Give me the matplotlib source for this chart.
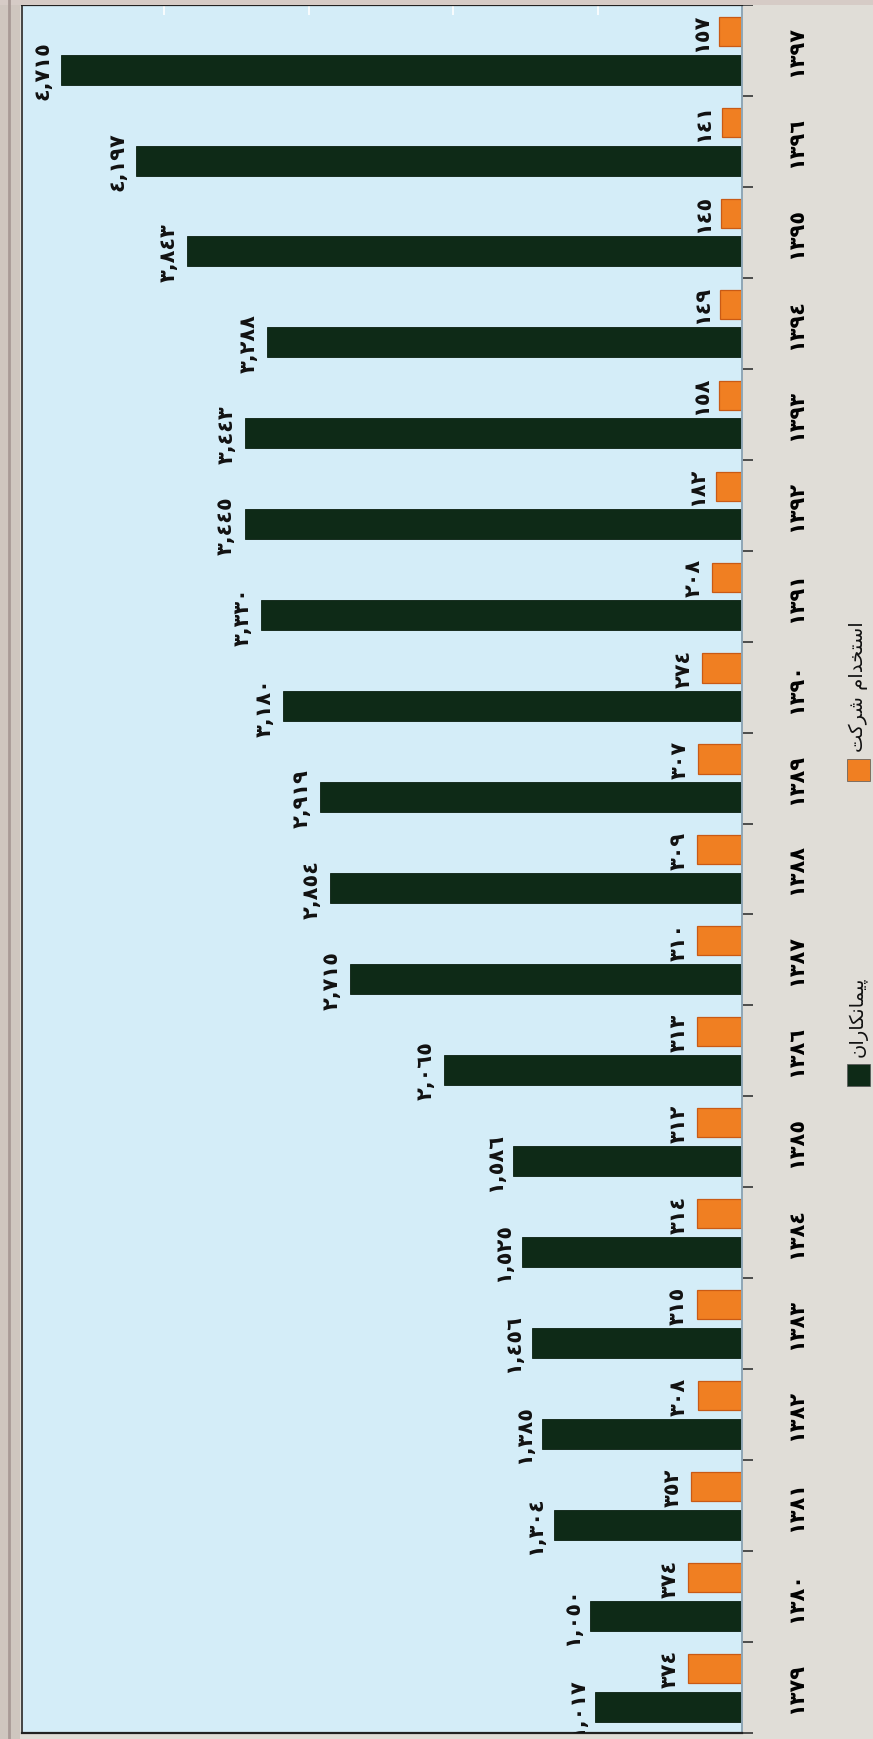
import numpy as np
import matplotlib
matplotlib.use("Agg")
import matplotlib.pyplot as plt
from matplotlib.patches import Rectangle

plt.rcParams['font.family'] = ['DejaVu Sans']

# data
years = [1379, 1380, 1381, 1382, 1383, 1384, 1385, 1386, 1387, 1388,
         1389, 1390, 1391, 1392, 1393, 1394, 1395, 1396, 1397]
contractors = [1017, 1050, 1304, 1385, 1456, 1525, 1586, 2065, 2715, 2854,
               2919, 3180, 3330, 3445, 3443, 3288, 3843, 4197, 4715]
company = [374, 374, 352, 308, 315, 314, 312, 313, 310, 309,
           307, 274, 208, 182, 158, 149, 145, 141, 157]
legend_names = ['پیمانکاران', 'استخدام شرکت']

DIGITS = str.maketrans('0123456789', '٠١٢٣٤٥٦٧٨٩')


def fa_num(v, sep=True):
    s = f'{v:,}' if sep else str(v)
    return s.translate(DIGITS)


# minimal arabic shaping (matplotlib does no shaping / bidi)
FORMS = {
    'ا': (0xFE8D, 0xFE8E, None, None), 'د': (0xFEA9, 0xFEAA, None, None),
    'ر': (0xFEAD, 0xFEAE, None, None), 'س': (0xFEB1, 0xFEB2, 0xFEB3, 0xFEB4),
    'ت': (0xFE95, 0xFE96, 0xFE97, 0xFE98), 'خ': (0xFEA5, 0xFEA6, 0xFEA7, 0xFEA8),
    'م': (0xFEE1, 0xFEE2, 0xFEE3, 0xFEE4), 'ش': (0xFEB5, 0xFEB6, 0xFEB7, 0xFEB8),
    'ک': (0xFB8E, 0xFB8F, 0xFB90, 0xFB91), 'پ': (0xFB56, 0xFB57, 0xFB58, 0xFB59),
    'ی': (0xFBFC, 0xFBFD, 0xFBFE, 0xFBFF), 'ن': (0xFEE5, 0xFEE6, 0xFEE7, 0xFEE8),
}


def shape(text):
    out = []
    for i, ch in enumerate(text):
        if ch not in FORMS:
            out.append(ch)
            continue
        prev = text[i - 1] if i > 0 else ''
        nxt = text[i + 1] if i + 1 < len(text) else ''
        jp = prev in FORMS and FORMS[prev][2] is not None
        jn = FORMS[ch][2] is not None and nxt in FORMS
        iso, fin, ini, med = FORMS[ch]
        if jp and jn:
            c = med
        elif jp:
            c = fin
        elif jn:
            c = ini
        else:
            c = iso
        out.append(chr(c))
    return ''.join(out[::-1])


W, H = 873, 1740
fig = plt.figure(figsize=(W / 100, H / 100), dpi=100, facecolor='#e0ddd7')

# scanned page frame on the left / top
fig.patches.append(Rectangle((0, 0), 20 / W, 1, transform=fig.transFigure,
                             facecolor='#cfc6bf', edgecolor='none'))
fig.patches.append(Rectangle((0, 1 - 6 / H), 1, 6 / H, transform=fig.transFigure,
                             facecolor='#d6cbc6', edgecolor='none'))
fig.add_artist(plt.Line2D([9 / W, 9 / W], [0, 1], transform=fig.transFigure,
                          color='#a89a96', linewidth=2))

ax = fig.add_axes([22 / W, 6 / H, 720 / W, 1728 / H])
ax.set_facecolor('#d4edf8')

y = np.arange(len(years))
dark = '#0e2a17'
orange = '#f07f22'
ax.barh(y - 0.21, contractors, height=0.33, color=dark, edgecolor='#0a1f10',
        linewidth=0.6, zorder=2)
ax.barh(y + 0.21, company, height=0.32, color=orange, edgecolor='#c95a15',
        linewidth=0.9, zorder=2)

ax.set_xlim(4986, 0)
ax.set_ylim(-0.5, len(years) - 0.5)

for yi, v in zip(y, contractors):
    ax.annotate(fa_num(v), (v, yi - 0.21), xytext=(-6, 0), textcoords='offset points',
                rotation=90, ha='right', va='center', fontsize=15, fontweight='bold',
                color='#111111', clip_on=True)
for yi, v in zip(y, company):
    ax.annotate(fa_num(v), (v, yi + 0.21), xytext=(-6, 0), textcoords='offset points',
                rotation=90, ha='right', va='center', fontsize=15, fontweight='bold',
                color='#111111', clip_on=True)

# category axis on the right
ax.yaxis.tick_right()
ax.set_yticks(y, [fa_num(v, False) for v in years])
ax.set_yticks(np.arange(-0.5, len(years), 1), minor=True)
ax.tick_params(axis='y', which='major', length=0, pad=32, labelsize=15, labelrotation=90)
ax.tick_params(axis='y', which='minor', length=8, width=1.2, color='#333333')
for lbl in ax.get_yticklabels():
    lbl.set_va('center')
    lbl.set_fontweight('bold')

# faint value ticks on the top edge
ax.xaxis.tick_top()
ax.set_xticks([1000, 2000, 3000, 4000])
ax.tick_params(axis='x', direction='in', length=7, width=1.2, color='white',
               labeltop=False, labelbottom=False)

ax.spines['top'].set_color('#222222')
ax.spines['top'].set_linewidth(1.6)
ax.spines['bottom'].set_color('#222222')
ax.spines['bottom'].set_linewidth(1.6)
ax.spines['left'].set_color('#444444')
ax.spines['left'].set_linewidth(1.4)
ax.spines['right'].set_color('#8fa6b6')
ax.spines['right'].set_linewidth(1.4)

# legend (rotated like the rest of the chart)
leg = [(legend_names[0], dark, 1087), (legend_names[1], orange, 782)]
for name, col, ybot in leg:
    fig.patches.append(Rectangle((847 / W, 1 - ybot / H), 23 / W, 22 / H,
                                 transform=fig.transFigure, facecolor=col,
                                 edgecolor='#555555', linewidth=0.5))
    fig.text(858 / W, 1 - (ybot - 30) / H, shape(name), rotation=90,
             ha='center', va='bottom', fontsize=14, color='#111111')

fig.savefig('out.png', dpi=100, facecolor=fig.get_facecolor())
